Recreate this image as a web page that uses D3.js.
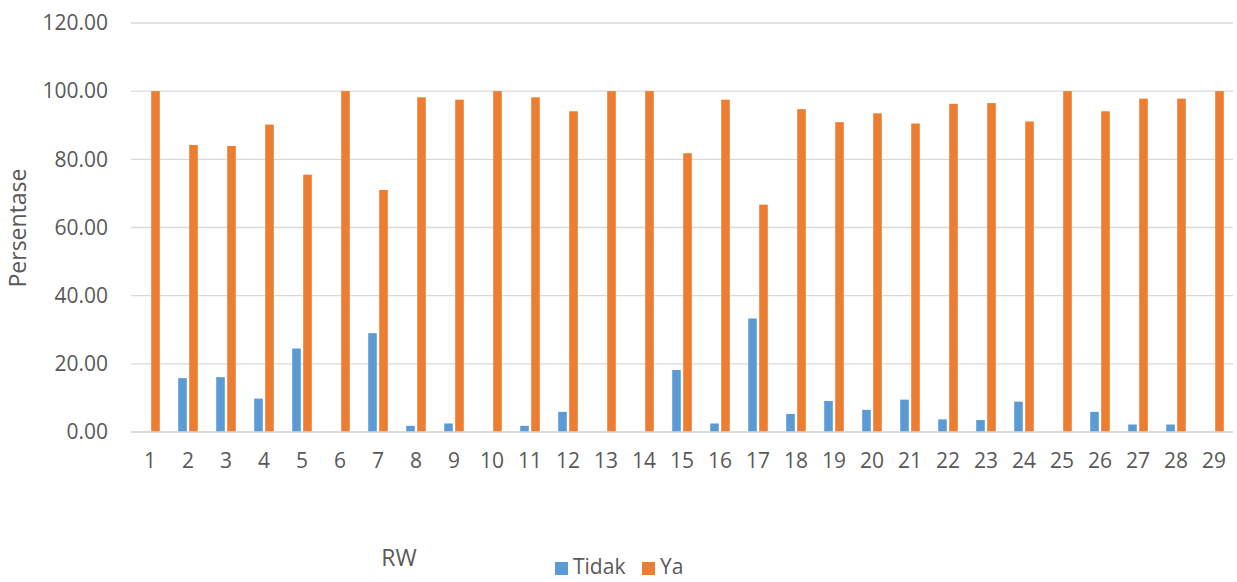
<!DOCTYPE html>
<html>
<head>
<meta charset="utf-8">
<script src="https://cdn.jsdelivr.net/npm/d3@7"></script>
<style>
  body { margin: 0; background: #fff; }
  svg text { font-family: "Open Sans", "Noto Sans", sans-serif; fill: #595959; }
</style>
</head>
<body>
<svg width="1237" height="582"></svg>
<script>
// kategori RW 1..29
var rwLabels = ["1","2","3","4","5","6","7","8","9","10","11","12","13","14","15",
                "16","17","18","19","20","21","22","23","24","25","26","27","28","29"];
// persentase "Tidak"
var tidakValues = [0, 15.8, 16.1, 9.8, 24.5, 0, 29.0, 1.8, 2.5, 0, 1.8, 5.9, 0, 0, 18.2,
                   2.5, 33.3, 5.3, 9.1, 6.5, 9.5, 3.7, 3.5, 8.9, 0, 5.9, 2.2, 2.2, 0];
// persentase "Ya"
var yaValues = [100, 84.2, 83.9, 90.2, 75.5, 100, 71.0, 98.2, 97.5, 100, 98.2, 94.1, 100, 100, 81.8,
                97.5, 66.7, 94.7, 90.9, 93.5, 90.5, 96.3, 96.5, 91.1, 100, 94.1, 97.8, 97.8, 100];
var seriesNames = ["Tidak", "Ya"];
var seriesColors = ["#5B9BD5", "#ED7D31"];
var yTicks = [0, 20, 40, 60, 80, 100, 120];

var svg = d3.select("svg"),
    margin = {top: 23, right: 4, bottom: 150, left: 131},
    width = 1233 - margin.left,
    height = 432 - margin.top,
    g = svg.append("g").attr("transform", "translate(" + margin.left + "," + margin.top + ")");

var data = rwLabels.map(function(rw, i) {
  return { rw: rw, values: [tidakValues[i], yaValues[i]] };
});

var x0 = d3.scaleBand().domain(rwLabels).range([0, width]).paddingInner(0).paddingOuter(0);
var x1 = d3.scaleBand().domain(seriesNames).range([0, x0.bandwidth()]).paddingInner(0.22).paddingOuter(0.836);
var y = d3.scaleLinear().domain([0, 120]).range([height, 0]);

// gridlines
g.append("g")
  .selectAll("line")
  .data(yTicks)
  .enter().append("line")
    .attr("x1", 0).attr("x2", width)
    .attr("y1", function(d) { return y(d); })
    .attr("y2", function(d) { return y(d); })
    .attr("stroke", "#D9D9D9")
    .attr("stroke-width", 1.3);

// y axis labels
var yAxis = g.append("g")
  .call(d3.axisLeft(y).tickValues(yTicks).tickFormat(d3.format(".2f")).tickSize(0).tickPadding(23));
yAxis.select(".domain").remove();
yAxis.selectAll("text").style("font-size", "21px").attr("fill", "#595959");

// x axis labels
var xAxis = g.append("g")
  .attr("transform", "translate(0," + height + ")")
  .call(d3.axisBottom(x0).tickSize(0).tickPadding(21));
xAxis.select(".domain").remove();
xAxis.selectAll("text").style("font-size", "21px").attr("fill", "#595959");

// bars
var group = g.selectAll(".rw")
  .data(data)
  .enter().append("g")
    .attr("class", "rw")
    .attr("transform", function(d) { return "translate(" + x0(d.rw) + ",0)"; });

group.selectAll("rect")
  .data(function(d) { return d.values.map(function(v, k) { return { key: seriesNames[k], value: v, k: k }; }); })
  .enter().append("rect")
    .attr("x", function(d) { return x1(d.key); })
    .attr("width", x1.bandwidth())
    .attr("y", function(d) { return y(d.value); })
    .attr("height", function(d) { return height - y(d.value); })
    .attr("fill", function(d) { return seriesColors[d.k]; });

// axis line on top of bars
g.append("line")
  .attr("x1", 0).attr("x2", width)
  .attr("y1", height).attr("y2", height)
  .attr("stroke", "#D9D9D9")
  .attr("stroke-width", 1.3);

// y title
svg.append("text")
  .attr("transform", "translate(26,228) rotate(-90)")
  .attr("text-anchor", "middle")
  .style("font-size", "23px")
  .text("Persentase");

// x title
svg.append("text")
  .attr("x", 399)
  .attr("y", 566)
  .attr("text-anchor", "middle")
  .style("font-size", "23px")
  .text("RW");

// legend
var legend = svg.append("g").attr("transform", "translate(555,562)");
var legendX = [0, 87];
seriesNames.forEach(function(name, i) {
  legend.append("rect")
    .attr("x", legendX[i]).attr("y", 0)
    .attr("width", 13).attr("height", 13)
    .attr("fill", seriesColors[i]);
  legend.append("text")
    .attr("x", legendX[i] + 18)
    .attr("y", 12)
    .style("font-size", "21px")
    .text(name);
});
</script>
</body>
</html>
